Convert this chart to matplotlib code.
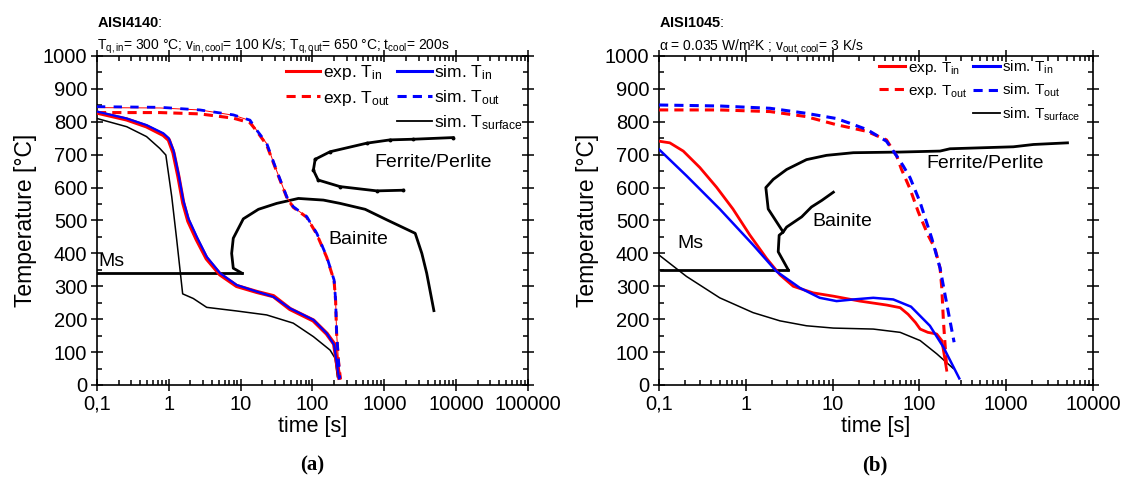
import numpy as np
import matplotlib
matplotlib.use('Agg')
import matplotlib.pyplot as plt
from matplotlib.ticker import FixedLocator, FuncFormatter, LogLocator, MultipleLocator
from matplotlib.lines import Line2D

plt.rcParams['font.family'] = ['Liberation Sans', 'DejaVu Sans']
plt.rcParams['mathtext.fontset'] = 'custom'
plt.rcParams['mathtext.rm'] = 'Liberation Sans'
plt.rcParams['mathtext.it'] = 'Liberation Sans:italic'
plt.rcParams['mathtext.bf'] = 'Liberation Sans:bold'

# ---- (a) AISI4140 ----
a_sim_in_t = [0.1, 0.26, 0.49, 0.84, 1.0, 1.16, 1.36, 1.59, 1.87, 2.45, 3.37, 5.17, 8.8, 16.7, 28.6, 48.7, 103, 158, 200, 218, 234]
a_sim_in_T = [831, 810, 790, 765, 750, 714, 643, 562, 507, 451, 390, 340, 304, 284, 268, 233, 198, 157, 122, 66, 20]
a_exp_in_t = [0.1, 0.26, 0.49, 0.84, 1.0, 1.16, 1.36, 1.59, 1.87, 2.45, 3.37, 5.17, 8.8, 16.7, 28.6, 48.7, 103, 158, 200, 218, 236]
a_exp_in_T = [828, 807, 786, 760, 745, 706, 634, 553, 498, 442, 384, 336, 301, 283, 270, 231, 196, 156, 125, 70, 22]

a_sim_out_t = [0.1, 0.76, 2.7, 7.9, 13.5, 16.7, 23, 31.6, 43.9, 54, 83, 115, 158, 200, 210, 217, 230, 240]
a_sim_out_T = [846, 844, 836, 821, 805, 775, 735, 653, 572, 542, 512, 461, 390, 319, 258, 157, 76, 20]
a_exp_out_t = [0.1, 0.76, 2.7, 7.9, 13.5, 16.7, 23, 31.6, 43.9, 54, 83, 115, 158, 200, 210, 217, 230, 245]
a_exp_out_T = [828, 828, 824, 811, 797, 772, 730, 650, 570, 540, 510, 458, 388, 317, 255, 155, 74, 18]
a_exp_out2_T = [843, 842, 836, 820, 804, 774, 734, 652, 571, 541, 511, 460, 389, 318, 257, 156, 75, 19]

a_surf_t = [0.1, 0.26, 0.49, 0.75, 0.91, 1.10, 1.29, 1.56, 2.19, 3.37, 8.8, 23, 54, 103, 176, 207, 222]
a_surf_T = [810, 785, 755, 719, 699, 572, 441, 277, 263, 236, 225, 213, 188, 147, 106, 81, 25]

a_ms_t = [0.1, 10.4]
a_ms_T = [340, 340]
a_bain_t = [10.4, 7.9, 7.5, 7.9, 10.9, 17.7, 31.8, 63.7, 142, 242, 541, 1083, 2692, 3330, 3890, 4900]
a_bain_T = [340, 355, 400, 446, 505, 534, 552, 567, 562, 552, 534, 502, 461, 400, 340, 226]
a_ferr_t = [9100, 2540, 1200, 570, 176, 109, 103, 120, 242, 787, 1845]
a_ferr_T = [752, 747, 745, 735, 709, 686, 653, 623, 603, 590, 592]

# ---- (b) AISI1045 ----
b_exp_in_t = [0.1, 0.133, 0.19, 0.295, 0.46, 0.71, 1.11, 1.73, 2.47, 3.52, 5.97, 10.2, 20.6, 42, 60, 74, 90, 102, 125, 158, 181, 192, 206]
b_exp_in_T = [741, 736, 711, 661, 601, 535, 456, 385, 335, 300, 280, 270, 255, 243, 235, 215, 190, 170, 160, 155, 135, 95, 45]
b_sim_in_t = [0.1, 0.207, 0.5, 1.21, 2.26, 4.2, 7.1, 11.1, 17.3, 29.4, 50, 80, 132, 189, 288]
b_sim_in_T = [716, 636, 535, 426, 345, 295, 265, 255, 260, 265, 260, 238, 180, 115, 20]

b_sim_out_t = [0.1, 0.5, 1.9, 4.9, 11, 16, 25, 41.7, 54.7, 65, 78, 101.6, 139, 173, 197, 225, 251]
b_sim_out_T = [851, 848, 841, 826, 810, 795, 776, 741, 696, 666, 630, 556, 445, 355, 275, 195, 130]
b_exp_out_t = [0.1, 0.5, 1.9, 4.9, 11.1, 24.7, 41.7, 54.7, 62, 78, 97, 126, 151, 173, 181, 189, 207]
b_exp_out_T = [836, 836, 831, 816, 791, 771, 745, 696, 656, 596, 526, 455, 415, 355, 295, 195, 45]

b_surf_t = [0.1, 0.207, 0.5, 1.21, 2.47, 5.0, 10.2, 29.4, 60, 102, 158, 246]
b_surf_T = [395, 330, 265, 220, 195, 180, 173, 170, 160, 135, 95, 50]

b_ms_t = [0.106, 3.08]
b_ms_T = [350, 350]
b_bain_t = [3.08, 2.36, 2.42, 2.69, 1.81, 1.70, 2.07, 2.95, 5.0, 8.5, 17.3, 60, 173, 225, 1210, 2060, 5080]
b_bain_T = [350, 405, 455, 465, 535, 600, 625, 655, 685, 698, 706, 708, 711, 718, 724, 731, 736]
b_branch_t = [2.69, 2.95, 4.4, 5.7, 7.5, 10.2]
b_branch_T = [465, 480, 511, 541, 561, 586]

xtick_a = [0.1, 1, 10, 100, 1000, 10000, 100000]
xtick_b = [0.1, 1, 10, 100, 1000, 10000]


def fmt_time(v, pos):
    return '0,1' if v < 1 else '%d' % v


def style_axis(ax, xticks):
    ax.set_xscale('log')
    ax.set_xlim(xticks[0], xticks[-1])
    ax.set_ylim(0, 1000)
    ax.xaxis.set_major_locator(FixedLocator(xticks))
    ax.xaxis.set_major_formatter(FuncFormatter(fmt_time))
    ax.xaxis.set_minor_locator(LogLocator(base=10, subs=np.arange(2, 10), numticks=20))
    ax.xaxis.set_minor_formatter(FuncFormatter(lambda v, p: ''))
    ax.yaxis.set_major_locator(MultipleLocator(100))
    ax.yaxis.set_minor_locator(MultipleLocator(50))
    ax.tick_params(which='both', top=True, right=True, labelsize=14.5, width=1.1, pad=3)
    ax.tick_params(which='major', direction='inout', length=8)
    ax.tick_params(which='minor', direction='in', length=3.5)
    for s in ax.spines.values():
        s.set_linewidth(1.2)
    ax.set_xlabel('time [s]', fontsize=15.5, labelpad=2)
    ax.set_ylabel('Temperature [°C]', fontsize=16.5, labelpad=4)


fig = plt.figure(figsize=(11.26, 4.83), dpi=100)
ax1 = fig.add_axes([0.0861, 0.2029, 0.3828, 0.6812])
ax2 = fig.add_axes([0.5853, 0.2029, 0.3854, 0.6812])

# panel (a)
ax1.plot(a_exp_in_t, a_exp_in_T, color='red', lw=3.0, zorder=3)
ax1.plot(a_sim_in_t, a_sim_in_T, color='blue', lw=1.6, zorder=4)
ax1.plot(a_exp_out_t, a_exp_out2_T, color='red', lw=0.7, zorder=3)
ax1.plot(a_exp_out_t, a_exp_out_T, color='red', lw=2.2, ls=(0, (3, 2)), zorder=3)
ax1.plot(a_sim_out_t, a_sim_out_T, color='blue', lw=2.0, ls=(0, (3, 3)), zorder=4)
ax1.plot(a_surf_t, a_surf_T, color='black', lw=1.1, zorder=2)
ax1.plot(a_ms_t, a_ms_T, color='black', lw=2.0)
ax1.plot(a_bain_t, a_bain_T, color='black', lw=2.0)
ax1.plot(a_ferr_t, a_ferr_T, color='black', lw=2.0, marker='o', ms=1.8)
ax1.text(0.105, 350, 'Ms', fontsize=14, ha='left', va='bottom')
ax1.text(436, 441, 'Bainite', fontsize=14, ha='center', va='center')
ax1.text(4830, 676, 'Ferrite/Perlite', fontsize=14, ha='center', va='center')
style_axis(ax1, xtick_a)

# panel (b)
ax2.plot(b_exp_in_t, b_exp_in_T, color='red', lw=2.0, zorder=3)
ax2.plot(b_sim_in_t, b_sim_in_T, color='blue', lw=1.8, zorder=4)
ax2.plot(b_exp_out_t, b_exp_out_T, color='red', lw=2.2, ls=(0, (3, 2)), zorder=3)
ax2.plot(b_sim_out_t, b_sim_out_T, color='blue', lw=2.2, ls=(0, (3, 2)), zorder=4)
ax2.plot(b_surf_t, b_surf_T, color='black', lw=1.1, zorder=2)
ax2.plot(b_ms_t, b_ms_T, color='black', lw=2.0)
ax2.plot(b_bain_t, b_bain_T, color='black', lw=2.0)
ax2.plot(b_branch_t, b_branch_T, color='black', lw=2.0)
ax2.text(0.232, 430, 'Ms', fontsize=14, ha='center', va='center')
ax2.text(13, 497, 'Bainite', fontsize=14, ha='center', va='center')
ax2.text(571, 673, 'Ferrite/Perlite', fontsize=14, ha='center', va='center')
style_axis(ax2, xtick_b)

# legends: exp column on the left, sim column on the right
for ax, fs, anchor, hl in [(ax1, 12.5, (1.005, 1.0), 2.0), (ax2, 11, (0.985, 1.01), 1.75)]:
    handles = [Line2D([], [], color='red', lw=2.2),
               Line2D([], [], color='red', lw=2.2, ls=(0, (3, 2))),
               Line2D([], [], color='none'),
               Line2D([], [], color='blue', lw=2.2),
               Line2D([], [], color='blue', lw=2.2, ls=(0, (3, 2))),
               Line2D([], [], color='black', lw=1.3)]
    labels = ['exp. T$_{\\mathrm{in}}$', 'exp. T$_{\\mathrm{out}}$', ' ',
              'sim. T$_{\\mathrm{in}}$', 'sim. T$_{\\mathrm{out}}$', 'sim. T$_{\\mathrm{surface}}$']
    ax.legend(handles, labels, ncol=2, loc='upper right', bbox_to_anchor=anchor,
              frameon=False, fontsize=fs, handlelength=hl, handletextpad=0.15,
              columnspacing=0.4, labelspacing=0.38, borderaxespad=0)

# headers above each panel
fig.text(0.0861, 0.945, '$\\mathbf{AISI4140}$:', fontsize=10.5, ha='left', va='baseline')
fig.text(0.0861, 0.897, 'T$_{\\mathrm{q,in}}$= 300 °C; v$_{\\mathrm{in,cool}}$= 100 K/s; '
         'T$_{\\mathrm{q,out}}$= 650 °C; t$_{\\mathrm{cool}}$= 200s',
         fontsize=10, ha='left', va='baseline')
fig.text(0.5853, 0.945, '$\\mathbf{AISI1045}$:', fontsize=10.5, ha='left', va='baseline')
fig.text(0.5853, 0.897, 'α = 0.035 W/m²K ; v$_{\\mathrm{out,cool}}$= 3 K/s',
         fontsize=10, ha='left', va='baseline')

# sub-figure captions
fig.text(0.2775, 0.037, '(a)', fontsize=15, fontfamily='Liberation Serif',
         fontweight='bold', ha='center', va='center')
fig.text(0.777, 0.037, '(b)', fontsize=15, fontfamily='Liberation Serif',
         fontweight='bold', ha='center', va='center')

fig.savefig('out.png', dpi=100)
